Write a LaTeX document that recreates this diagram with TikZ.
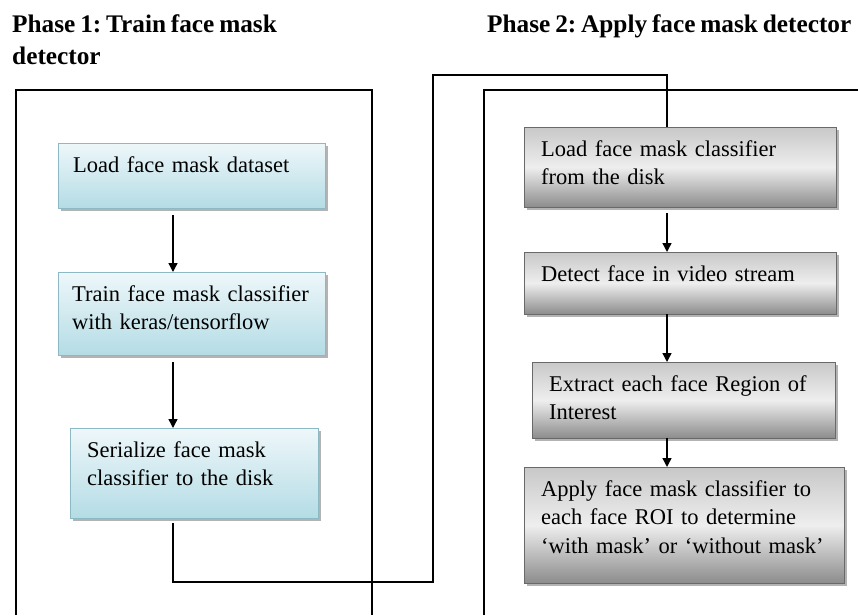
\documentclass[tikz,border=0pt]{standalone}
\usepackage{fontspec}
\setmainfont{Liberation Serif}
\frenchspacing
\usetikzlibrary{shadows,arrows.meta}

\tikzset{
  phasetitle/.style={anchor=base west, inner sep=0pt, text width=#1, align=left,
    font=\fontsize{25.3}{32}\selectfont\bfseries,
    execute at begin node={\spaceskip=.19em\relax}},
  stage/.style={draw, anchor=north west, align=left, inner xsep=17pt, inner ysep=6pt,
    text height=23pt, font=\fontsize{22.5}{28.5}\selectfont,
    drop shadow={shadow xshift=2.5pt, shadow yshift=-2.5pt, fill=black!50, opacity=.6}},
  trainbox/.style={stage, draw=trainedge, top color=traintop, bottom color=trainbot},
  applybox/.style={stage, draw=applyedge, top color=applytop, bottom color=applybot,
    middle color=applymid},
  flow/.style={-{Triangle[length=9pt,width=9pt]}, line width=1.4pt},
  link/.style={line width=2.6pt},
  frame/.style={line width=2.6pt},
}

\begin{document}
\begin{tikzpicture}[x=1pt, y=-1pt]
\definecolor{traintop}{RGB}{238,247,250}
\definecolor{trainbot}{RGB}{180,220,229}
\definecolor{trainedge}{RGB}{140,185,195}
\definecolor{applytop}{RGB}{200,200,200}
\definecolor{applymid}{RGB}{238,238,238}
\definecolor{applybot}{RGB}{140,140,140}
\definecolor{applyedge}{RGB}{105,105,105}

\useasboundingbox (0,0) rectangle (858,615);

% titles
\node[phasetitle=340pt] (title1) at (12,33) {Phase 1: Train face mask\\detector};
\node[phasetitle=370pt] (title2) at (487,33) {Phase 2: Apply face mask detector};

% phase frames
\draw[frame] (16,615) |- (372,90) -- (372,615);
\draw[frame] (484,615) |- (858,90);

% columns for the arrows
\coordinate (lcol) at (173,0);
\coordinate (rcol) at (667,0);

% phase 1
\node[trainbox, inner xsep=15pt, text width=237pt, text depth=30pt] (load) at (58,143) {Load face mask dataset};
\node[trainbox, inner xsep=14pt, text width=239pt, text depth=48pt] (train) at (58,272) {Train face mask classifier\\with keras/tensorflow};
\node[trainbox, text width=214pt, text depth=55pt] (serial) at (70,428) {Serialize face mask\\classifier to the disk};

% phase 2
\node[applybox, text width=278pt, text depth=45pt] (loadclf) at (524,127) {Load face mask classifier\\from the disk};
\node[applybox, text width=278pt, text depth=27pt] (detect) at (524,252) {Detect face in video stream};
\node[applybox, text width=269pt, text depth=41pt] (extract) at (532,362) {Extract each face Region of\\Interest};
\node[applybox, text width=286pt, text depth=81pt] (apply) at (524,467) {Apply face mask classifier to\\each face ROI to determine\\`with mask' or `without mask'};

\draw[flow, shorten <=7pt] (load.south -| lcol) -- (train.north -| lcol);
\draw[flow, shorten <=7pt] (train.south -| lcol) -- (serial.north -| lcol);
\draw[flow, shorten <=6pt] (loadclf.south -| rcol) -- (detect.north -| rcol);
\draw[flow] (detect.south -| rcol) -- (extract.north -| rcol);
\draw[flow] (extract.south -| rcol) -- (apply.north -| rcol);

% hand-over from phase 1 to phase 2
\coordinate (bendlow) at (433,582);
\coordinate (bendtop) at (433,75);
\draw[link, shorten <=5pt] (serial.south -| lcol) |- (bendlow) -- (bendtop) -| (loadclf.north -| rcol);
\end{tikzpicture}
\end{document}
